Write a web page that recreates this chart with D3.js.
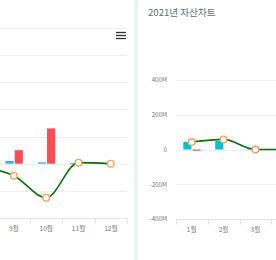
<!DOCTYPE html>
<html>
<head>
<meta charset="utf-8">
<script src="https://cdn.jsdelivr.net/npm/d3@7"></script>
<style>
	html, body { margin: 0; padding: 0; background: #fff; }
	svg { display: block; }
	.grid line { stroke: #eceff4; stroke-width: 1; }
	.tick-mark { stroke: #dfe4ee; stroke-width: 1; }
	.x-base { stroke: #dfe4ee; stroke-width: 1; }
	.axis text { font-family: "Noto Sans CJK KR", "Noto Sans", sans-serif; fill: #777; }
	.title { font-family: "Noto Sans CJK KR", sans-serif; font-size: 9.6px; fill: #666c78; }
</style>
</head>
<body>
<div id="chart"></div>
<script>

// month categories (shared by both cards)
var months = ["1월", "2월", "3월", "4월", "5월", "6월", "7월", "8월", "9월", "10월", "11월", "12월"];

// left card: only its last months are in view (values in M)
var leftBarMonths = ["9월", "10월", "11월"];
var leftIncome = [10, 5, 3];
var leftExpense = [50, 130, 0];
var leftLineMonths = ["8월", "9월", "10월", "11월", "12월"];
var leftLine = [-12, -44, -125, 4, 0];
var leftTicks = [-200, -100, 0, 100, 200, 300, 400, 500];

// right card: 2021년 자산차트
var rightTitle = "2021년 자산차트";
var rightBarMonths = ["1월", "2월", "3월"];
var rightIncome = [43, 49, 10];
var rightExpense = [-7, 0, 0];
var rightLineMonths = ["1월", "2월", "3월", "4월", "5월"];
var rightLine = [43, 58, 0, 0, 0];
var rightTicks = [-400, -200, 0, 200, 400];
var rightTickLabels = ["-400M", "-200M", "0", "200M", "400M"];

var W = 276, H = 260;
var incomeColor = ["#3aaee8", "#00c2d1"];
var expenseColor = "#ff4c55";
var lineColor = "#0b6e0b";
var markerColor = "#f4a262";

var svg = d3.select("#chart").append("svg")
	.attr("width", W)
	.attr("height", H);

// gap between the two cards
svg.append("rect")
	.attr("x", 134).attr("y", 0)
	.attr("width", 4).attr("height", H)
	.attr("fill", "#eef1f6");

var drawCard = function(opt) {

	var g = svg.append("g");

	var x = d3.scaleBand().domain(months).range(opt.xRange);
	var bw = x.bandwidth();
	var y = d3.scaleLinear().domain(opt.yDomain).range(opt.yRange);

	// sub scale for the two bar series in a month
	var xs = d3.scaleBand().domain(["income", "expense"])
		.range([bw * 0.24, bw * 0.78])
		.paddingInner(0.12);

	// horizontal grid
	g.append("g")
		.attr("class", "grid")
		.selectAll("line")
		.data(opt.ticks)
		.enter()
		.append("line")
		.attr("x1", opt.gridX[0])
		.attr("x2", opt.gridX[1])
		.attr("y1", function(d) { return Math.round(y(d)) + 0.5; })
		.attr("y2", function(d) { return Math.round(y(d)) + 0.5; });

	// bottom axis line and ticks on band edges
	var baseY = Math.round(y(opt.yDomain[0])) + 0.5;
	g.append("line")
		.attr("class", "x-base")
		.attr("x1", opt.gridX[0]).attr("x2", opt.gridX[1])
		.attr("y1", baseY).attr("y2", baseY);

	var edges = months.map(function(m) { return x(m); }).concat([x(months[11]) + bw]);
	g.selectAll(".tick-mark")
		.data(edges.filter(function(d) { return d >= 0 && d <= W; }))
		.enter()
		.append("line")
		.attr("class", "tick-mark")
		.attr("x1", function(d) { return Math.round(d) + 0.5; })
		.attr("x2", function(d) { return Math.round(d) + 0.5; })
		.attr("y1", baseY)
		.attr("y2", baseY + 5);

	// month labels, only those inside the window
	var visible = months.filter(function(m) {
		var c = x(m) + bw / 2;
		return c > 8 && c < W - 8;
	});
	var xAxis = d3.axisBottom(x).tickValues(visible).tickSize(0).tickPadding(8);
	g.append("g")
		.attr("class", "axis")
		.attr("transform", "translate(0," + baseY + ")")
		.call(xAxis)
		.call(function(s) {
			s.select(".domain").remove();
			s.selectAll("text").style("font-size", "6.6px");
		});

	// y labels
	if (opt.yLabels) {
		var yAxis = d3.axisLeft(y)
			.tickValues(opt.ticks)
			.tickSize(0)
			.tickPadding(3)
			.tickFormat(function(d, i) { return opt.yLabels[i]; });
		g.append("g")
			.attr("class", "axis")
			.attr("transform", "translate(170,0)")
			.call(yAxis)
			.call(function(s) {
				s.select(".domain").remove();
				s.selectAll("text").style("font-size", "6.2px");
			});
	}

	// bars
	var bars = [];
	opt.barMonths.forEach(function(m, i) {
		bars.push({ m: m, s: "income", v: opt.income[i] });
		bars.push({ m: m, s: "expense", v: opt.expense[i] });
	});

	g.selectAll(".bar")
		.data(bars.filter(function(d) { return d.v !== 0; }))
		.enter()
		.append("rect")
		.attr("class", "bar")
		.attr("x", function(d) { return x(d.m) + xs(d.s); })
		.attr("width", xs.bandwidth())
		.attr("y", function(d) { return Math.min(y(d.v), y(0)); })
		.attr("height", function(d) { return Math.abs(y(d.v) - y(0)); })
		.attr("fill", function(d) { return d.s === "income" ? opt.incomeColor : expenseColor; });

	// smooth line
	var pts = opt.lineMonths.map(function(m, i) {
		return [x(m) + bw / 2, y(opt.line[i])];
	});

	g.append("path")
		.datum(pts)
		.attr("fill", "none")
		.attr("stroke", lineColor)
		.attr("stroke-width", 1.6)
		.attr("d", d3.line().curve(d3.curveMonotoneX));

	// markers only where the month has data
	g.selectAll(".dot")
		.data(pts.slice(opt.markerFrom, opt.markerTo))
		.enter()
		.append("circle")
		.attr("class", "dot")
		.attr("cx", function(d) { return d[0]; })
		.attr("cy", function(d) { return d[1]; })
		.attr("r", 3.3)
		.attr("fill", "#fff")
		.attr("stroke", markerColor)
		.attr("stroke-width", 1.4);

	return g;
}

// left card
drawCard({
	xRange: [127 - 12 * 32.33, 127],
	yDomain: [-200, 500],
	yRange: [218, 28],
	gridX: [0, 127],
	ticks: leftTicks,
	yLabels: null,
	barMonths: leftBarMonths,
	income: leftIncome,
	expense: leftExpense,
	incomeColor: incomeColor[0],
	lineMonths: leftLineMonths,
	line: leftLine,
	markerFrom: 0,
	markerTo: 5
});

// toolbar menu icon of the left card
svg.append("g")
	.selectAll("line")
	.data([32.5, 35.5, 38.5])
	.enter()
	.append("line")
	.attr("x1", 116).attr("x2", 126)
	.attr("y1", function(d) { return d; })
	.attr("y2", function(d) { return d; })
	.attr("stroke", "#333")
	.attr("stroke-width", 1.3);

// right card
drawCard({
	xRange: [175.7, 175.7 + 12 * 31.9],
	yDomain: [-400, 400],
	yRange: [219, 80],
	gridX: [176, 560],
	ticks: rightTicks,
	yLabels: rightTickLabels,
	barMonths: rightBarMonths,
	income: rightIncome,
	expense: rightExpense,
	incomeColor: incomeColor[1],
	lineMonths: rightLineMonths,
	line: rightLine,
	markerFrom: 0,
	markerTo: 3
});

svg.append("text")
	.attr("class", "title")
	.attr("x", 148)
	.attr("y", 16)
	.text(rightTitle);

</script>
</body>
</html>
